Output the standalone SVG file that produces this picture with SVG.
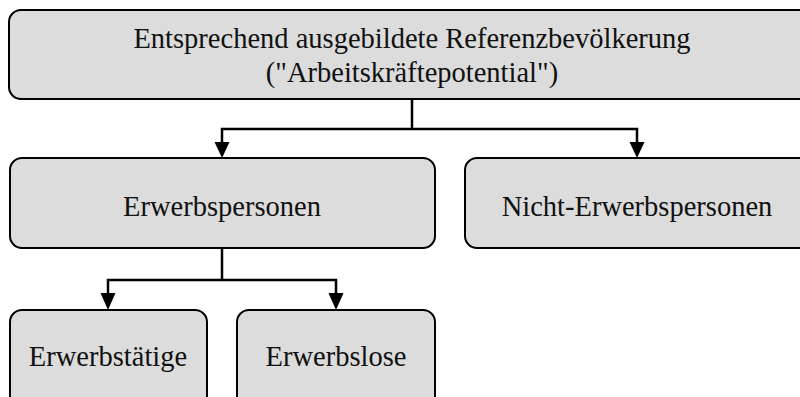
<svg xmlns="http://www.w3.org/2000/svg" width="800" height="397" viewBox="0 0 800 397">
<defs>
<style>
.box{fill:#dcdcdc;stroke:#000;stroke-width:2}
.t{font-family:"Liberation Serif","Times New Roman",serif;font-size:28.5px;fill:#111;text-anchor:middle}
.c{fill:none;stroke:#000;stroke-width:2.5}
</style>
</defs>
<g id="root">
<rect class="box" x="9" y="10" width="805" height="89" rx="12"/>
<text class="t" x="412" y="48">Entsprechend ausgebildete Referenzbevölkerung</text>
<text class="t" x="412" y="82">("Arbeitskräftepotential")</text>
</g>
<g id="erwerbspersonen">
<rect class="box" x="10" y="158" width="425" height="90" rx="12"/>
<text class="t" x="222" y="216">Erwerbspersonen</text>
</g>
<g id="nicht-erwerbspersonen">
<rect class="box" x="465" y="158" width="350" height="90" rx="12"/>
<text class="t" x="637" y="216">Nicht-Erwerbspersonen</text>
</g>
<g id="erwerbstaetige">
<rect class="box" x="10" y="310" width="197" height="100" rx="12"/>
<text class="t" x="108" y="366">Erwerbstätige</text>
</g>
<g id="erwerbslose">
<rect class="box" x="237" y="310" width="198" height="100" rx="12"/>
<text class="t" x="336" y="366">Erwerbslose</text>
</g>
<g id="connectors">
<path class="c" d="M412,100 V129"/>
<path class="c" d="M222,143 V129 H637 V143"/>
<path d="M214.5,142 L229.5,142 L222,158 z" fill="#000"/>
<path d="M629.5,142 L644.5,142 L637,158 z" fill="#000"/>
<path class="c" d="M222,248 V280"/>
<path class="c" d="M108,294 V280 H336 V294"/>
<path d="M100.5,293 L115.5,293 L108,310 z" fill="#000"/>
<path d="M328.5,293 L343.5,293 L336,310 z" fill="#000"/>
</g>
</svg>
